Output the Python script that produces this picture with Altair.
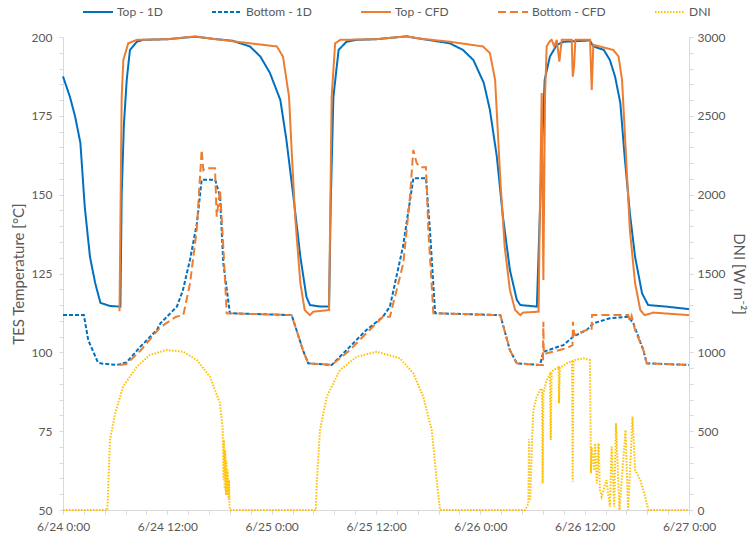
import altair as alt
import pandas as pd

# ---------------- data (hours since 6/24 0:00, value) ----------------
series_names = ["Top - 1D", "Bottom - 1D", "Top - CFD", "Bottom - CFD", "DNI"]
series_colors = ["#0070C0", "#0070C0", "#ED7D31", "#ED7D31", "#FFC000"]
series_dashes = [[1, 0], [4, 2], [1, 0], [8, 4], [1.5, 1.5]]
series_widths = [2.0, 2.0, 2.0, 2.0, 1.5]

tick_hours = [0, 12, 24, 36, 48, 60, 72]
tick_labels = ["6/24 0:00", "6/24 12:00", "6/25 0:00", "6/25 12:00",
               "6/26 0:00", "6/26 12:00", "6/27 0:00"]

top_1d = [(0, 187.5), (0.8, 181), (1.4, 174.7), (2.0, 166.4), (2.5, 146.2), (3.1, 130.3),
          (3.7, 122), (4.3, 115.7), (5.4, 114.7), (6.6, 114.5), (6.75, 150), (7.0, 172),
          (7.33, 186.4), (7.7, 195.9), (8.5, 198.5), (9.2, 199.1), (12, 199.3), (15.2, 200.1),
          (17, 199.5), (19.5, 198.8), (21.5, 197), (22.7, 193.8), (23.8, 188.6), (25.0, 180),
          (25.7, 167.3), (26.5, 149.4), (27.3, 130.3), (28.0, 117.6), (28.4, 115), (29.6, 114.5),
          (30.6, 114.5), (30.8, 148), (31.1, 181), (31.7, 195.9), (32.6, 198.5), (33.8, 199.1),
          (36, 199.3), (39.5, 200.2), (41, 199.5), (44.5, 198), (46.0, 195.9), (47.2, 192.7),
          (48.4, 185.4), (49.1, 176.9), (49.9, 162), (50.6, 143), (51.4, 126.1), (52.2, 116.6),
          (52.6, 115), (54.5, 114.5), (55.06, 162), (55.4, 186.4), (56.0, 193.8), (56.8, 197.5),
          (57.6, 198.5), (60.6, 198.9), (61.0, 197), (62.2, 195.9), (62.9, 192.7), (63.5, 187.4),
          (64.1, 179.1), (64.6, 162), (65.2, 144.1), (65.8, 130.3), (66.6, 118.7), (67.3, 115),
          (69.4, 114.5), (72, 113.7)]

bottom_1d = [(0, 111.8), (2.4, 111.8), (2.9, 103.9), (4.0, 96.9), (4.3, 96.5), (6.2, 96),
             (7.3, 96.8), (8.9, 101.8), (10.8, 107.1), (11.2, 109.2), (13.1, 114.5), (13.8, 119.8),
             (14.6, 129.3), (15.4, 140.9), (15.95, 154.7), (17.5, 154.7), (18.06, 149.4),
             (18.44, 128.2), (19.2, 112.4), (26.3, 111.8), (27.6, 100.7), (28.2, 96.5), (30.9, 96),
             (33.0, 101.8), (34.9, 107.1), (36.8, 111.3), (37.6, 114.5), (39.1, 133.5),
             (40.3, 155.2), (41.75, 155.2), (42.2, 138.8), (42.8, 112.4), (50.3, 111.8),
             (51.4, 100.7), (52.2, 96.5), (54.87, 96), (55.25, 100.2), (57.55, 102.3), (58.7, 105),
             (60.24, 107.1), (61.0, 109.2), (62.9, 110.8), (65.0, 111.3), (65.6, 109.2),
             (66.75, 100.7), (67.14, 96.5), (72, 96)]

top_cfd = [(6.5, 113), (6.75, 181), (6.94, 192.7), (7.5, 198), (8.5, 199.1), (12, 199.3),
           (15.2, 200.2), (17, 199.5), (21.5, 198), (24.6, 197), (25.3, 193.8), (26.0, 181),
           (26.3, 164), (26.7, 143), (27.3, 121.9), (27.8, 113.4), (28.4, 111.8), (28.8, 112.9),
           (30.6, 113.4), (30.9, 181), (31.3, 198), (31.9, 199.1), (36, 199.3), (39.5, 200.2),
           (41, 199.5), (44.5, 198.5), (48.3, 197), (49.1, 194.9), (49.7, 186.4), (50.3, 154.7),
           (50.8, 133.5), (51.4, 119.8), (52.0, 113.4), (52.6, 111.8), (52.9, 112.6), (54.7, 112.9),
           (54.87, 149.4), (55.06, 182.2), (55.25, 122.9), (55.44, 181), (55.63, 197),
           (55.94, 198.5), (56.2, 199.1), (56.5, 197), (56.79, 199.1), (57.09, 192.2),
           (57.36, 199.1), (58.51, 199.1), (58.63, 187.4), (58.78, 190.6), (58.93, 199.1),
           (60.62, 199.1), (60.81, 183.2), (61.0, 197.5), (63.3, 195.9), (63.9, 193.8),
           (64.3, 186.4), (64.6, 170.5), (65.2, 138.8), (65.8, 121.9), (66.4, 113.4),
           (66.9, 111.8), (67.9, 112.6), (72, 111.8)]

bottom_cfd = [(6.5, 96), (7.3, 96.3), (8.9, 100.5), (11.2, 108), (13.0, 111.3), (13.84, 111.8),
              (14.61, 121.9), (15.38, 138.8), (15.95, 164.2), (16.14, 157.8), (16.33, 158.4),
              (17.48, 158.4), (17.68, 143), (18.06, 151.5), (18.44, 133.5), (18.83, 112.4),
              (26.3, 111.8), (27.6, 100.7), (28.2, 96.5), (30.9, 96), (33.0, 100.7), (34.9, 106.1),
              (36.8, 111.3), (37.6, 111.3), (39.14, 128.2), (39.91, 149.4), (40.29, 164.2),
              (40.68, 160), (41.06, 158.7), (41.75, 158.7), (42.02, 138.8), (42.6, 112.4),
              (50.3, 111.8), (51.4, 100.7), (52.2, 96.5), (54.87, 96), (55.2, 96), (55.25, 109.7),
              (55.3, 99.5), (55.63, 99.7), (57.94, 101.3), (58.6, 102.3), (58.65, 109.7),
              (58.8, 105.5), (60.24, 107.1), (60.8, 107.1), (60.85, 111.8), (65.02, 111.8),
              (65.2, 109.7), (65.4, 111.5), (65.79, 107.1), (66.75, 100.7), (67.14, 96.5), (72, 96)]

dni = [(0, 0), (5.1, 0), (5.4, 444), (6.0, 613), (6.9, 782), (8.5, 909), (10.0, 983),
       (11.9, 1015), (13.8, 1004), (15.4, 951), (16.9, 845), (18.06, 677), (18.37, 507),
       (18.45, 190), (18.5, 444), (18.6, 127), (18.65, 380), (18.75, 95), (18.8, 317),
       (18.9, 95), (18.95, 254), (19.05, 63), (19.1, 190), (19.15, 30), (19.21, 0),
       (29.07, 0), (29.2, 190), (29.56, 507), (30.33, 718), (31.86, 888), (33.78, 972),
       (36.08, 1004), (38.76, 962), (40.29, 867), (41.44, 718), (42.41, 507), (42.98, 190),
       (43.36, 0), (53.14, 0), (53.52, 40), (53.6, 450), (53.65, 60), (53.75, 80),
       (53.95, 450), (54.1, 634), (54.48, 718), (54.87, 761), (55.1, 770), (55.17, 169),
       (55.25, 740), (55.63, 824), (56.0, 860), (56.1, 444), (56.2, 870), (56.4, 888),
       (57.0, 905), (57.05, 677), (57.15, 905), (57.36, 909), (57.94, 930), (58.55, 945),
       (58.62, 180), (58.7, 948), (58.89, 951), (59.85, 962), (60.6, 951), (60.73, 233),
       (60.8, 400), (61.1, 250), (61.2, 423), (61.4, 169), (61.6, 423), (61.75, 127),
       (61.95, 85), (62.5, 190), (62.9, 21), (63.1, 402), (63.4, 21), (63.6, 550), (64.0, 0),
       (64.7, 507), (65.0, 0), (65.5, 592), (65.8, 254), (66.4, 190), (66.95, 85),
       (67.33, 0), (72, 0)]

# ---------------- tables ----------------
temp_rows = []
for name, pts in [("Top - 1D", top_1d), ("Bottom - 1D", bottom_1d),
                  ("Top - CFD", top_cfd), ("Bottom - CFD", bottom_cfd)]:
    for i, (t, v) in enumerate(pts):
        temp_rows.append({"series": name, "t": t, "v": v, "i": i})
temp_df = pd.DataFrame(temp_rows)
dni_df = pd.DataFrame([{"series": "DNI", "t": t, "v": v, "i": i} for i, (t, v) in enumerate(dni)])

FONT = "Lato"
GRAY = "#595959"
AXC = "#D9D9D9"

x_values = [round(i * 2.4, 1) for i in range(31)]
x_label_expr = " : ".join(f"datum.value == {h} ? '{l}'" for h, l in zip(tick_hours, tick_labels)) + " : ''"

x_enc = alt.X("t:Q", scale=alt.Scale(domain=[0, 72], nice=False, zero=False),
              axis=alt.Axis(values=x_values, labelExpr=x_label_expr, title=None,
                            labelFlush=False, labelOverlap=False, tickSize=4,
                            labelPadding=7))

legend_kw = dict(title=None, orient="none", direction="horizontal",
                 legendX=19, legendY=-41, columnPadding=45,
                 symbolType="stroke", symbolSize=900,
                 symbolStrokeWidth=2, labelOffset=3,
                 labelFont=FONT, labelFontSize=12, labelColor=GRAY)

color_enc = alt.Color("series:N",
                      scale=alt.Scale(domain=series_names, range=series_colors),
                      legend=alt.Legend(**legend_kw))
dash_enc = alt.StrokeDash("series:N",
                          scale=alt.Scale(domain=series_names, range=series_dashes),
                          legend=alt.Legend(**legend_kw))
width_enc = alt.StrokeWidth("series:N",
                            scale=alt.Scale(domain=series_names, range=series_widths),
                            legend=None)

temp_layer = alt.Chart(temp_df).mark_line().encode(
    x=x_enc,
    y=alt.Y("v:Q", scale=alt.Scale(domain=[50, 200], nice=False, zero=False),
            axis=alt.Axis(values=list(range(50, 201, 5)),
                          labelExpr="datum.value % 25 == 0 ? datum.label : ''",
                          format="d", title="TES Temperature [°C]", tickSize=4,
                          labelPadding=7, titlePadding=5, labelOverlap=False)),
    color=color_enc,
    strokeDash=dash_enc,
    strokeWidth=width_enc,
    order=alt.Order("i:Q"),
)

dni_layer = alt.Chart(dni_df).mark_line().encode(
    x=x_enc,
    y=alt.Y("v:Q", scale=alt.Scale(domain=[0, 3000], nice=False),
            axis=alt.Axis(orient="right", values=list(range(0, 3001, 100)),
                          labelExpr="datum.value % 500 == 0 ? datum.label : ''",
                          format="d", title="DNI [W m⁻²]", tickSize=4,
                          labelPadding=4, titlePadding=6, labelOverlap=False)),
    color=color_enc,
    strokeDash=dash_enc,
    strokeWidth=width_enc,
    order=alt.Order("i:Q"),
)

chart = alt.layer(temp_layer, dni_layer).resolve_scale(y="independent").properties(
    width=626, height=473,
    autosize=alt.AutoSizeParams(type="none"),
    padding={"left": 63, "top": 37, "right": 59, "bottom": 26},
    background="white",
).configure_view(stroke="transparent").configure_axis(
    grid=False, domainColor=AXC, tickColor=AXC, labelColor=GRAY, titleColor=GRAY,
    labelFont=FONT, titleFont=FONT, labelFontSize=12, titleFontSize=15,
    titleFontWeight="normal",
)

chart.save("out.html", embed_options={"renderer": "svg", "actions": False})
